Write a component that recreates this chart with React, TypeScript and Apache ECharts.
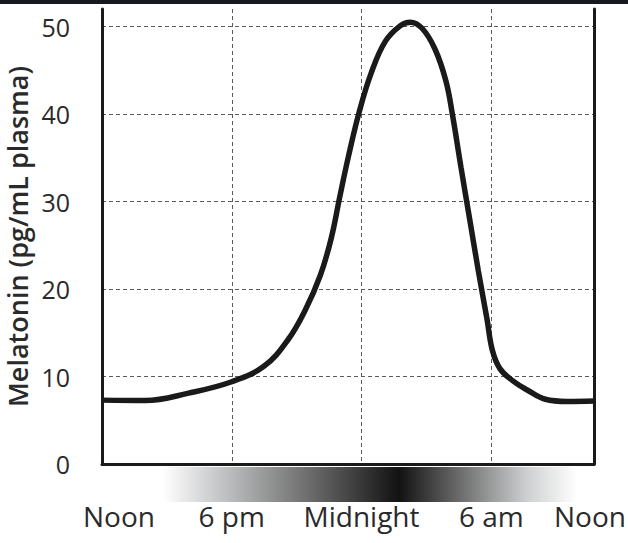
import React, { useEffect, useRef } from "react";
import * as echarts from "echarts";

const hours = [0, 2, 4, 6, 7.5, 8.6, 9.4, 10.1, 10.6, 11.0, 11.4, 11.9, 12.45, 13.1, 13.8, 14.25, 14.8, 15.4, 15.9, 16.2, 16.6, 17.0, 17.4, 17.8, 18.05, 18.4, 19.0, 19.7, 20.5, 21.5, 22.75];
const melatonin = [7.3, 7.25, 8.1, 9.4, 11.2, 14.2, 17.6, 21.6, 25.8, 30.6, 35.2, 40.3, 44.7, 48.3, 50.1, 50.5, 49.8, 47.4, 43.8, 40.0, 33.9, 28.0, 22.1, 16.6, 13.0, 10.9, 9.5, 8.4, 7.4, 7.15, 7.2];
const xTickValues = [0, 6, 12, 18];
const xTickLabels = ["Noon", "6 pm", "Midnight", "6 am"];
const xEndLabel = "Noon";
const yName = "Melatonin (pg/mL plasma)";

const FONT = "'Open Sans', 'Noto Sans', sans-serif";

export default function App() {
  const ref = useRef<HTMLDivElement>(null);
  useEffect(() => {
    document.body.style.margin = "0";
    if (!ref.current) return;
    const chart = echarts.init(ref.current, null, { renderer: "svg" });
    const data = hours.map((h, i) => [h, melatonin[i]]);
    const dashed = { color: "#5a5a5a", width: 1, type: [4, 3] as any };
    chart.setOption({
      animation: false,
      backgroundColor: "#ffffff",
      grid: { left: 102, right: 34, top: 9, bottom: 79, containLabel: false, outerBoundsMode: "none" },
      xAxis: {
        type: "value",
        min: 0,
        max: 22.75,
        interval: 6,
        axisLine: { show: true, lineStyle: { color: "#1a1a1a", width: 3 } },
        axisTick: { show: false },
        splitLine: { show: true, showMinLine: false, showMaxLine: false, lineStyle: dashed },
        axisLabel: {
          show: true,
          showMinLabel: true,
          showMaxLabel: true,
          hideOverlap: false,
          margin: 38,
          fontFamily: FONT,
          fontSize: 28,
          color: "#2a2a2a",
          formatter: (v: number) => {
            const idx = xTickValues.indexOf(v);
            if (idx === 0) return "{l|" + xTickLabels[0] + "}";
            if (idx > 0) return xTickLabels[idx];
            return "{r|" + xEndLabel + "}";
          },
          rich: {
            l: { padding: [0, 0, 0, 34], fontFamily: FONT, fontSize: 28, color: "#2a2a2a" },
            r: { padding: [0, 8, 0, 0], fontFamily: FONT, fontSize: 28, color: "#2a2a2a" },
          },
        },
      },
      yAxis: [
        {
          type: "value",
          min: 0,
          max: 52,
          interval: 10,
          name: yName,
          nameLocation: "middle",
          nameGap: 71,
          nameTextStyle: { fontFamily: FONT, fontSize: 27, fontWeight: 600, color: "#2a2a2a", lineHeight: 27 },
          axisLine: { show: true, lineStyle: { color: "#1a1a1a", width: 3 } },
          axisTick: { show: false },
          splitLine: { show: true, showMinLine: false, showMaxLine: false, lineStyle: dashed },
          axisLabel: {
            margin: 32,
            fontFamily: FONT,
            fontSize: 25,
            color: "#2a2a2a",
            showMaxLabel: false,
            formatter: (v: number) => (v % 10 === 0 ? String(v) : ""),
          },
        },
        {
          type: "value",
          position: "right",
          min: 0,
          max: 52,
          interval: 10,
          axisLine: { show: true, lineStyle: { color: "#1a1a1a", width: 3 } },
          axisTick: { show: false },
          axisLabel: { show: false },
          splitLine: { show: false },
        },
      ],
      graphic: [
        {
          type: "rect",
          left: 0,
          top: 0,
          shape: { width: 628, height: 4 },
          style: { fill: "#17191c" },
          silent: true,
        },
        {
          type: "rect",
          x: 163,
          y: 467,
          shape: { width: 414, height: 35 },
          style: {
            fill: new echarts.graphic.LinearGradient(0, 0, 1, 0, [
              { offset: 0, color: "#ffffff" },
              { offset: 0.1, color: "#d4d5d6" },
              { offset: 0.57, color: "#121212" },
              { offset: 0.88, color: "#cfd0d1" },
              { offset: 1, color: "#ffffff" },
            ]),
          },
          silent: true,
          z: 0,
        },
      ],
      series: [
        {
          type: "line",
          data,
          smooth: 0.4,
          showSymbol: false,
          symbol: "none",
          lineStyle: { color: "#1a1a1a", width: 5.5 },
          z: 5,
        },
      ],
    });
    return () => chart.dispose();
  }, []);
  return <div ref={ref} style={{ width: 628, height: 543 }} />;
}
